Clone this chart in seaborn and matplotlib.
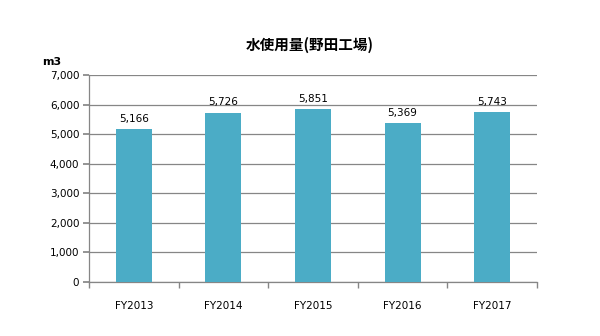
import matplotlib
matplotlib.use("Agg")
import matplotlib.pyplot as plt
import seaborn as sns
import pandas as pd
from matplotlib.ticker import FuncFormatter, MultipleLocator

years = ["FY2013", "FY2014", "FY2015", "FY2016", "FY2017"]
water_use = [5166, 5726, 5851, 5369, 5743]

sns.set_theme(style="white")
plt.rcParams["font.family"] = ["DejaVu Sans", "Noto Sans CJK JP"]
plt.rcParams["text.color"] = "black"

df = pd.DataFrame({"year": years, "water": water_use})

fig = plt.figure(figsize=(6.0, 3.36), dpi=100)
ax = fig.add_axes([89 / 600, 1 - 282 / 336, (537 - 89) / 600, (282 - 75) / 336])

sns.barplot(data=df, x="year", y="water", color="#4BACC6", saturation=1,
            width=0.4, linewidth=0, ax=ax, zorder=3)

ax.set_ylim(0, 7000)
ax.set_xlim(-0.5, len(years) - 0.5)
ax.yaxis.set_major_locator(MultipleLocator(1000))
ax.yaxis.set_major_formatter(FuncFormatter(lambda v, p: f"{int(v):,}"))
ax.grid(axis="y", color="#868686", linewidth=0.9, zorder=0)
ax.set_axisbelow(True)

for side in ("top", "right"):
    ax.spines[side].set_visible(False)
for side in ("left", "bottom"):
    ax.spines[side].set_color("#868686")
    ax.spines[side].set_linewidth(0.9)

ax.tick_params(axis="y", which="major", left=True, length=4, color="#868686",
               labelsize=7.5, pad=3, labelcolor="black")
ax.set_xticks([i + 0.5 for i in range(-1, len(years))], minor=True)
ax.tick_params(axis="x", which="minor", bottom=True, length=4, color="#868686")
ax.tick_params(axis="x", which="major", bottom=False, labelsize=7.5, pad=8,
               labelcolor="black")
ax.set_xlabel("")
ax.set_ylabel("")

for i, v in enumerate(water_use):
    ax.text(i, v + 180, f"{v:,}", ha="center", va="bottom", fontsize=7.5,
            color="black")

fig.text(52 / 600, 1 - 62 / 336, "m3", ha="center", va="center",
         fontsize=8, fontweight="bold", color="black")
fig.text(310 / 600, 1 - 45 / 336, "水使用量(野田工場)", ha="center",
         va="center", fontsize=10.5, fontweight="bold", color="black",
         family=["Noto Sans CJK JP", "DejaVu Sans"])

fig.savefig("out.png", dpi=100, facecolor="white")
